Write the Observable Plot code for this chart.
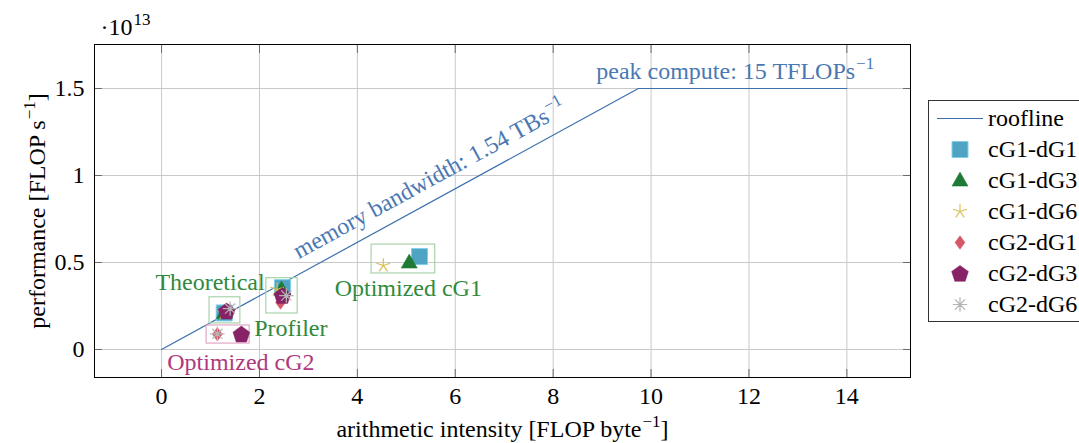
<!DOCTYPE html>
<html>
<head>
<meta charset="utf-8">
<script src="https://cdn.jsdelivr.net/npm/d3@7"></script>
<script src="https://cdn.jsdelivr.net/npm/@observablehq/plot@0.6"></script>
<style>
  body { margin: 0; background: #fff; font-family: "Liberation Serif", "Times New Roman", serif; }
  #wrap { position: relative; width: 1079px; height: 443px; overflow: hidden; }
  #legend { position: absolute; left: 928px; top: 100px; width: 170px; height: 222px;
            border: 1px solid #333; background: #fff; box-sizing: border-box; }
  .row { position: absolute; left: 0; height: 31px; display: flex; align-items: center; }
  .row svg { flex: none; }
  .row span { font-size: 24px; color: #000; margin-left: 3px; white-space: nowrap; }
</style>
</head>
<body>
<div id="wrap"><div id="legend"></div></div>
<script>
// ---- Data -----------------------------------------------------------------
// Performance is in units of 10^13 FLOP/s, arithmetic intensity in FLOP/byte.
const series = ["cG1-dG1", "cG1-dG3", "cG1-dG6", "cG2-dG1", "cG2-dG3", "cG2-dG6"];

// Theoretical estimate for every configuration
const theoreticalAI   = [2.47, 2.45, 2.36, 2.43, 2.47, 2.55];
const theoreticalPerf = [0.355, 0.345, 0.345, 0.27, 0.31, 0.31];

// Profiler measurement for every configuration
const profilerAI   = [1.28, 1.28, 1.28, 1.30, 1.33, 1.40];
const profilerPerf = [0.21, 0.21, 0.21, 0.22, 0.22, 0.235];

// Optimized kernels
const optCG1Series = ["cG1-dG1", "cG1-dG3", "cG1-dG6"];
const optCG1AI     = [5.27, 5.06, 4.53];
const optCG1Perf   = [0.534, 0.50, 0.483];

const optCG2Series = ["cG2-dG1", "cG2-dG3", "cG2-dG6"];
const optCG2AI     = [1.14, 1.63, 1.14];
const optCG2Perf   = [0.088, 0.088, 0.09];

// Hardware limits
const peakTFLOPs = 15;      // TFLOP/s
const bandwidthTBs = 1.54;  // TB/s
const rooflineEndAI = 14;

// Group annotations (boxes and captions)
const groupNames  = ["Profiler", "Theoretical", "Optimized cG1", "Optimized cG2"];
const groupX1     = [0.98, 2.14, 4.29, 0.92];
const groupX2     = [1.61, 2.78, 5.59, 1.80];
const groupY1     = [0.15, 0.207, 0.437, 0.034];
const groupY2     = [0.30, 0.41, 0.603, 0.138];
const captionX    = [2.64, 0.99, 5.04, 1.62];
const captionY    = [0.12, 0.385, 0.35, -0.075];
const groupColors = ["#2f8a3c", "#2f8a3c", "#2f8a3c", "#b0397e"];
const boxColors   = ["#a9d3ab", "#a9d3ab", "#a9d3ab", "#e3a6c6"];

// Axes
const xTicks = [0, 2, 4, 6, 8, 10, 12, 14];
const yTicks = [0, 0.5, 1, 1.5];
const yTickLabels = ["0", "0.5", "1", "1.5"];
const xDomain = [-1.37, 15.3];
const yDomain = [-0.161, 1.753];

// ---- Marker shapes ----------------------------------------------------------
const rad = (size) => Math.sqrt(size / Math.PI);
const polygon = (ctx, pts) => { ctx.moveTo(...pts[0]); pts.slice(1).forEach(p => ctx.lineTo(...p)); ctx.closePath(); };
const symSquare = { draw(ctx, size) { const r = rad(size); polygon(ctx, [[-r, -r], [r, -r], [r, r], [-r, r]]); } };
const symTriangle = { draw(ctx, size) { const r = rad(size); polygon(ctx, [[0, -1.06 * r], [r, 0.7 * r], [-r, 0.7 * r]]); } };
const symDiamond = { draw(ctx, size) { const r = rad(size); polygon(ctx, [[0, -0.85 * r], [0.62 * r, 0], [0, 0.85 * r], [-0.62 * r, 0]]); } };
const symPentagon = { draw(ctx, size) {
  const r = rad(size) * 1.1;
  polygon(ctx, d3.range(5).map(i => { const a = -Math.PI / 2 + i * 2 * Math.PI / 5; return [r * Math.cos(a), r * Math.sin(a) + 0.08 * r]; }));
} };
const spokes = (n, k) => ({ draw(ctx, size) {
  const r = rad(size) * k;
  for (let i = 0; i < n; i++) { const a = -Math.PI / 2 + i * 2 * Math.PI / n; ctx.moveTo(0, 0); ctx.lineTo(r * Math.cos(a), r * Math.sin(a)); }
} });
const symStar = spokes(5, 0.9);
const symAsterisk = spokes(8, 0.9);

const seriesStyle = {
  "cG1-dG1": { symbol: symSquare,   fill: "#4fa3c3", stroke: "#80cfe8", strokeWidth: 1 },
  "cG1-dG3": { symbol: symTriangle, fill: "#1f7a35", stroke: "#1f7a35", strokeWidth: 0.5 },
  "cG1-dG6": { symbol: symStar,     fill: "none",    stroke: "#d8bf52", strokeWidth: 1.2 },
  "cG2-dG1": { symbol: symDiamond,  fill: "#d5586a", stroke: "#d5586a", strokeWidth: 0.5 },
  "cG2-dG3": { symbol: symPentagon, fill: "#862265", stroke: "#862265", strokeWidth: 0.5 },
  "cG2-dG6": { symbol: symAsterisk, fill: "none",    stroke: "#b5b5b5", strokeWidth: 1.2 }
};
const markerR = 8;
const rooflineColor = "#3c70ad";
const annotationBlue = "#4a78b3";

// ---- Tables -----------------------------------------------------------------
const points = [
  ...series.map((s, i) => ({ series: s, ai: theoreticalAI[i], perf: theoreticalPerf[i] })),
  ...series.map((s, i) => ({ series: s, ai: profilerAI[i], perf: profilerPerf[i] })),
  ...optCG1Series.map((s, i) => ({ series: s, ai: optCG1AI[i], perf: optCG1Perf[i] })),
  ...optCG2Series.map((s, i) => ({ series: s, ai: optCG2AI[i], perf: optCG2Perf[i] }))
];
const groups = groupNames.map((name, i) => ({
  name, x1: groupX1[i], x2: groupX2[i], y1: groupY1[i], y2: groupY2[i],
  cx: captionX[i], cy: captionY[i], color: groupColors[i], box: boxColors[i]
}));

// Roofline: bandwidth slope until it meets the compute ceiling
const peak = peakTFLOPs / 10;          // in 10^13 FLOP/s
const slope = bandwidthTBs / 10;       // 10^13 FLOP/s per FLOP/byte
const ridge = peak / slope;
const roofline = [{ ai: 0, perf: 0 }, { ai: ridge, perf: peak }, { ai: rooflineEndAI, perf: peak }];

// ---- Layout -----------------------------------------------------------------
const W = 1079, H = 443, mL = 94, mR = 169, mT = 44, mB = 66;
const kx = (W - mL - mR) / (xDomain[1] - xDomain[0]);
const ky = (H - mT - mB) / (yDomain[1] - yDomain[0]);
const bandwidthAngle = -Math.atan(slope * ky / kx) * 180 / Math.PI;

const font = "Liberation Serif, Times New Roman, serif";
const fs = 24;
const tickAxis = (opts) => ({ tickSize: -8, tickFormat: () => "", label: null, stroke: "#6b6b6b", ...opts });

const chart = Plot.plot({
  width: W, height: H,
  marginLeft: mL, marginRight: mR, marginTop: mT, marginBottom: mB,
  style: { fontFamily: font, fontSize: fs + "px", color: "#000", background: "#fff" },
  x: { domain: xDomain },
  y: { domain: yDomain },
  marks: [
    Plot.gridX(xTicks, { stroke: "#c9c9c9", strokeOpacity: 1, strokeWidth: 1 }),
    Plot.gridY(yTicks, { stroke: "#c9c9c9", strokeOpacity: 1, strokeWidth: 1 }),
    Plot.axisX({ anchor: "bottom", ticks: xTicks, tickSize: 0, tickPadding: 9,
                 label: "arithmetic intensity [FLOP byte⁻¹]", labelAnchor: "center", labelArrow: "none", labelOffset: 59 }),
    Plot.axisY({ anchor: "left", ticks: yTicks, tickSize: 0, tickPadding: 10,
                 tickFormat: (d) => yTickLabels[yTicks.indexOf(d)],
                 label: "performance [FLOP s⁻¹]", labelAnchor: "center", labelArrow: "none", labelOffset: 67 }),
    Plot.axisX(tickAxis({ anchor: "bottom", ticks: xTicks })),
    Plot.axisX(tickAxis({ anchor: "top", ticks: xTicks })),
    Plot.axisY(tickAxis({ anchor: "left", ticks: yTicks })),
    Plot.axisY(tickAxis({ anchor: "right", ticks: yTicks })),
    Plot.frame({ stroke: "#000", strokeWidth: 1 }),

    Plot.line(roofline, { x: "ai", y: "perf", stroke: rooflineColor, strokeWidth: 1.2 }),
    Plot.text(["memory bandwidth: 1.54 TBs⁻¹"], {
      x: [ridge * 0.28], y: [peak * 0.28 + 0.137], text: (d) => d,
      rotate: bandwidthAngle, textAnchor: "start", lineAnchor: "middle",
      fill: annotationBlue, fontSize: fs
    }),
    Plot.text(["peak compute: 15 TFLOPs⁻¹"], {
      x: [8.88], y: [1.60], text: (d) => d, textAnchor: "start", lineAnchor: "middle",
      fill: annotationBlue, fontSize: fs
    }),

    Plot.rect(groups, { x1: "x1", x2: "x2", y1: "y1", y2: "y2", fill: "none", stroke: "box", strokeWidth: 1.2 }),
    ...series.map((s) => Plot.dot(points.filter((p) => p.series === s), {
      x: "ai", y: "perf", r: markerR, ...seriesStyle[s]
    })),
    Plot.text(groups, { x: "cx", y: "cy", text: "name", fill: "color", fontSize: fs, lineAnchor: "middle" }),

    Plot.text(["·10¹³"], { frameAnchor: "top-left", text: (d) => d, dx: 6, dy: -17,
                           textAnchor: "start", lineAnchor: "middle", fill: "#000", fontSize: fs })
  ]
});

// Raise exponent characters (⁻¹, ¹³) into proper superscripts
const supMap = { "⁻": "−", "¹": "1", "³": "3" };
function superscripts(svg) {
  svg.querySelectorAll("text").forEach((t) => {
    const targets = t.querySelectorAll("tspan").length ? [...t.querySelectorAll("tspan")] : [t];
    targets.forEach((el) => {
      const s = el.textContent;
      if (!/[⁻¹³]/.test(s)) return;
      const parts = s.match(/[⁻¹³]+|[^⁻¹³]+/g);
      el.textContent = "";
      let raised = false;
      parts.forEach((p) => {
        const span = document.createElementNS("http://www.w3.org/2000/svg", "tspan");
        if (/[⁻¹³]/.test(p)) {
          span.textContent = [...p].map((c) => supMap[c]).join("");
          span.setAttribute("font-size", "17px");
          span.setAttribute("dx", "1");
          span.setAttribute("dy", "-10");
          raised = true;
        } else {
          span.textContent = p;
          if (raised) { span.setAttribute("dy", "10"); raised = false; }
        }
        el.appendChild(span);
      });
    });
  });
}
superscripts(chart);
document.getElementById("wrap").prepend(chart);

// ---- Legend -----------------------------------------------------------------
const legend = document.getElementById("legend");
const legendRows = [{ label: "roofline", line: true }, ...series.map((s) => ({ label: s }))];
legendRows.forEach((row, i) => {
  const div = document.createElement("div");
  div.className = "row";
  div.style.top = (2 + i * 31) + "px";
  const svg = d3.create("svg").attr("width", 56).attr("height", 31);
  if (row.line) {
    svg.append("line").attr("x1", 8).attr("x2", 54).attr("y1", 15.5).attr("y2", 15.5)
      .attr("stroke", rooflineColor).attr("stroke-width", 1.2);
  } else {
    const st = seriesStyle[row.label];
    const p = d3.path();
    st.symbol.draw(p, Math.PI * markerR * markerR);
    svg.append("path").attr("transform", "translate(31,15.5)").attr("d", p.toString())
      .attr("fill", st.fill).attr("stroke", st.stroke).attr("stroke-width", st.strokeWidth);
  }
  div.appendChild(svg.node());
  const span = document.createElement("span");
  span.textContent = row.label;
  div.appendChild(span);
  legend.appendChild(div);
});
</script>
</body>
</html>
